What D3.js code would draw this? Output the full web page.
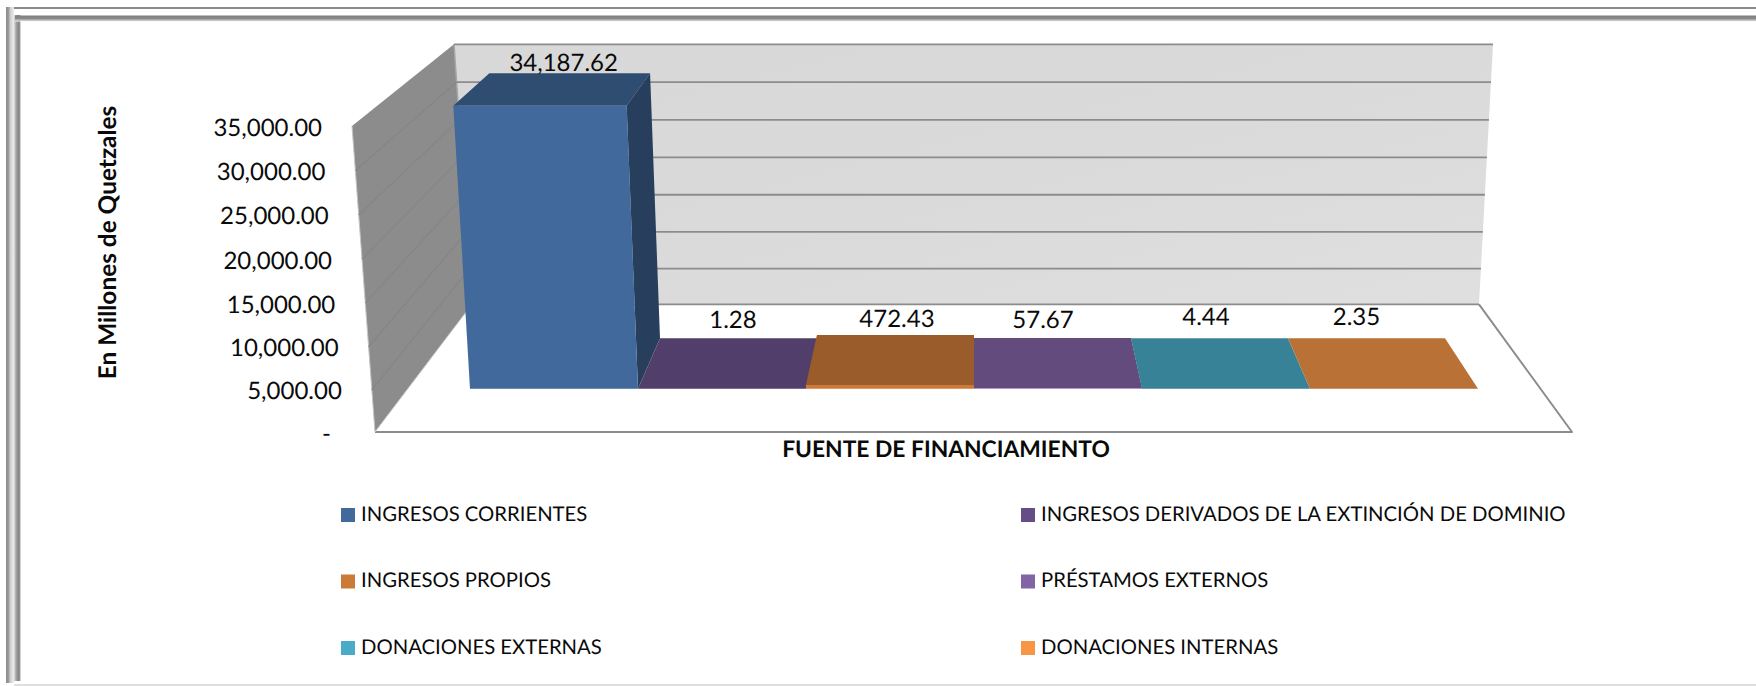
<!DOCTYPE html>
<html><head><meta charset="utf-8">
<script src="https://cdn.jsdelivr.net/npm/d3@7"></script>
<style>html,body{margin:0;padding:0;background:#fff;overflow:hidden}svg{display:block}text{font-family:Lato,"Noto Sans",sans-serif;fill:#0a0a0a;text-rendering:geometricPrecision}</style>
</head><body><svg id="c" width="1756" height="686"></svg>
<script>
const categories=["INGRESOS CORRIENTES","INGRESOS DERIVADOS DE LA EXTINCIÓN DE DOMINIO","INGRESOS PROPIOS","PRÉSTAMOS EXTERNOS","DONACIONES EXTERNAS","DONACIONES INTERNAS"];
const values=[34187.62,1.28,472.43,57.67,4.44,2.35];
const valueLabels=["34,187.62","1.28","472.43","57.67","4.44","2.35"];
const colors=["#41699b","#654e85","#cc7a38","#8263a6","#4aabc7","#f79646"];
const axisTicks=[0,5000,10000,15000,20000,25000,30000,35000];
const axisLabels=["-","5,000.00","10,000.00","15,000.00","20,000.00","25,000.00","30,000.00","35,000.00"];
const yTitle="En Millones de Quetzales", xTitle="FUENTE DE FINANCIAMIENTO";

const svg=d3.select("#c"), defs=svg.append("defs");
const grad=(id,x2,y2,stops)=>{const g=defs.append("linearGradient").attr("id",id).attr("x1",0).attr("y1",0).attr("x2",x2).attr("y2",y2);
 stops.forEach(([o,c])=>g.append("stop").attr("offset",o).attr("stop-color",c));return `url(#${id})`;};

// chart frame
const fOuter=grad("fo",1,0,[[0,"#8a8a8a"],[.3,"#9a9a9a"],[.55,"#cfcfcf"],[1,"#eeeeee"]]);
const fInner=grad("fi",1,0,[[0,"#dddddd"],[.35,"#a0a0a0"],[.75,"#808080"],[1,"#f4f4f4"]]);
const fTop=grad("ft",0,1,[[0,"#7f7f7f"],[.5,"#8a8a8a"],[.8,"#c0c0c0"],[1,"#f4f4f4"]]);
svg.append("rect").attr("x",6).attr("y",7).attr("width",1750).attr("height",2).attr("fill","#8a8a8a");
svg.append("rect").attr("x",6).attr("y",7).attr("width",8).attr("height",676).attr("fill",fOuter);
svg.append("rect").attr("x",14).attr("y",15).attr("width",7).attr("height",666).attr("fill",fInner);
svg.append("rect").attr("x",15).attr("y",15.5).attr("width",1741).attr("height",6).attr("fill",fTop);
svg.append("rect").attr("x",14).attr("y",684).attr("width",1742).attr("height",2).attr("fill","#dedede");

// value -> fraction of wall height
const frac=d3.scalePow().exponent(1.02).domain([0,35000]).range([0,1]);
const lerp=(a,b,t)=>a+(b-a)*t;

// walls
const wallFrontX=d3.scaleLinear([0,1],[375,352]), wallFrontY=d3.scaleLinear([0,1],[432,126]);
const wallBackX=d3.scaleLinear([0,1],[472,454]), wallBackY=d3.scaleLinear([0,1],[304.3,44.3]);
const wallRightX=d3.scaleLinear([0,1],[1479,1493]);
const floorFrontRight=1572;
const poly=pts=>pts.map(p=>p.join(",")).join(" ");

const wallFill=grad("wf",1,1,[[0,"#d8d8d8"],[.5,"#dadada"],[1,"#dfdfdf"]]);
svg.append("polygon").attr("points",poly([[wallBackX(1),wallBackY(1)],[wallRightX(1),wallBackY(1)],[wallRightX(0),wallBackY(0)],[wallBackX(0),wallBackY(0)]])).attr("fill",wallFill);
svg.append("polygon").attr("points",poly([[wallFrontX(1),wallFrontY(1)],[wallBackX(1),wallBackY(1)],[wallBackX(0),wallBackY(0)],[wallFrontX(0),wallFrontY(0)]])).attr("fill","#8c8c8c");
// left wall edges
svg.append("line").attr("x1",wallFrontX(1)).attr("y1",wallFrontY(1)).attr("x2",wallFrontX(0)).attr("y2",wallFrontY(0)).attr("stroke","#c4c4c4").attr("stroke-width",1);
svg.append("line").attr("x1",wallBackX(1)).attr("y1",wallBackY(1)).attr("x2",wallBackX(0)).attr("y2",wallBackY(0)).attr("stroke","#a6a6a6").attr("stroke-width",1.5);

// gridlines on both walls
svg.append("g").selectAll("line").data(axisTicks).join("line")
 .attr("x1",d=>wallBackX(frac(d))).attr("x2",d=>wallRightX(frac(d)))
 .attr("y1",d=>wallBackY(frac(d))).attr("y2",d=>wallBackY(frac(d)))
 .attr("stroke","#8c8c8c").attr("stroke-width",1.8);
svg.append("g").selectAll("line").data(axisTicks.slice(1,-1)).join("line")
 .attr("x1",d=>wallFrontX(frac(d))).attr("x2",d=>wallBackX(frac(d)))
 .attr("y1",d=>wallFrontY(frac(d))).attr("y2",d=>wallBackY(frac(d)))
 .attr("stroke","#858585").attr("stroke-width",1.2);

// floor outline
svg.append("polyline").attr("points",poly([[wallFrontX(0),wallFrontY(0)],[floorFrontRight,wallFrontY(0)],[wallRightX(0),wallBackY(0)]]))
 .attr("fill","none").attr("stroke","#8c8c8c").attr("stroke-width",2).attr("stroke-linejoin","round");
svg.append("line").attr("x1",wallFrontX(0)).attr("y1",wallFrontY(0)).attr("x2",wallBackX(0)).attr("y2",wallBackY(0)).attr("stroke","#d0d0d0").attr("stroke-width",1);

// bars: corner positions interpolate between the base (f=0) and wall height (f=1)
const idx=d3.scaleLinear().domain([0,categories.length]).range([0,1]);
const fBaseX=d3.scaleLinear([0,1],[470,1478]), fTopX=d3.scaleLinear([0,1],[452.9,1494]);
const bBaseX=d3.scaleLinear([0,1],[503,1445]), bTopX=d3.scaleLinear([0,1],[489,1454]);
const fY=d3.scaleLinear([0,1],[388.7,98.8]), bY=d3.scaleLinear([0,1],[338.3,66.9]);
const P=(i,v,back)=>{const f=frac(v),t=idx(i);
 return back?[lerp(bBaseX(t),bTopX(t),f),bY(f)]:[lerp(fBaseX(t),fTopX(t),f),fY(f)];};
const shade=(c,k)=>{const r=d3.rgb(c);return d3.rgb(r.r*k,r.g*k,r.b*k).formatHex();};
const topK=[.73,.8,.75,.76,.76,.75];

const bars=svg.append("g").selectAll("g").data(values).join("g");
bars.append("polygon").attr("points",(v,i)=>poly([P(i,v,0),P(i,v,1),P(i+1,v,1),P(i+1,v,0)])).attr("fill",(v,i)=>shade(colors[i],topK[i]));
bars.append("polygon").attr("points",(v,i)=>poly([P(i+1,v,0),P(i+1,v,1),P(i+1,0,1),P(i+1,0,0)])).attr("fill",(v,i)=>shade(colors[i],.6));
bars.append("polygon").attr("points",(v,i)=>poly([P(i,v,0),P(i+1,v,0),P(i+1,0,0),P(i,0,0)])).attr("fill",(v,i)=>colors[i]);

// value labels
const labelDx=[-6,-5.5,1.5,-9.5,-3.5,-10], labelDy=[-10.6,-19,-16,-18.5,-21.6,-21.6];
svg.append("g").selectAll("text").data(values).join("text")
 .attr("x",(v,i)=>(P(i,v,1)[0]+P(i+1,v,1)[0])/2+labelDx[i])
 .attr("y",(v,i)=>P(i,v,1)[1]+labelDy[i])
 .attr("text-anchor","middle").attr("dominant-baseline","central").attr("font-size",24)
 .text((v,i)=>valueLabels[i]);

// value axis labels
svg.append("g").selectAll("text").data(axisTicks).join("text")
 .attr("x",d=>d===0?331:wallFrontX(frac(d))-30)
 .attr("y",d=>wallFrontY(frac(d))+1)
 .attr("text-anchor","end").attr("dominant-baseline","central").attr("font-size",24)
 .text((d,i)=>axisLabels[i]);

// titles
svg.append("text").attr("transform","translate(107,242.5) rotate(-90)").attr("text-anchor","middle").attr("dominant-baseline","central")
 .attr("font-size",24.4).attr("font-weight",700).text(yTitle);
svg.append("text").attr("x",946).attr("y",448).attr("text-anchor","middle").attr("dominant-baseline","central")
 .attr("font-size",22.8).attr("font-weight",700).text(xTitle);

// legend (two columns, three rows)
const legX=d3.scalePoint().domain([0,1]).range([341,1021]);
const legY=d3.scalePoint().domain([0,1,2]).range([514.5,647.5]);
const leg=svg.append("g").selectAll("g").data(categories).join("g")
 .attr("transform",(d,i)=>`translate(${legX(i%2)},${legY(Math.floor(i/2))})`);
leg.append("rect").attr("x",0).attr("y",-6.5).attr("width",14).attr("height",14).attr("fill",(d,i)=>colors[i]);
leg.append("text").attr("x",20).attr("y",-1).attr("dominant-baseline","central").attr("font-size",20.3).text(d=>d);
</script></body></html>
